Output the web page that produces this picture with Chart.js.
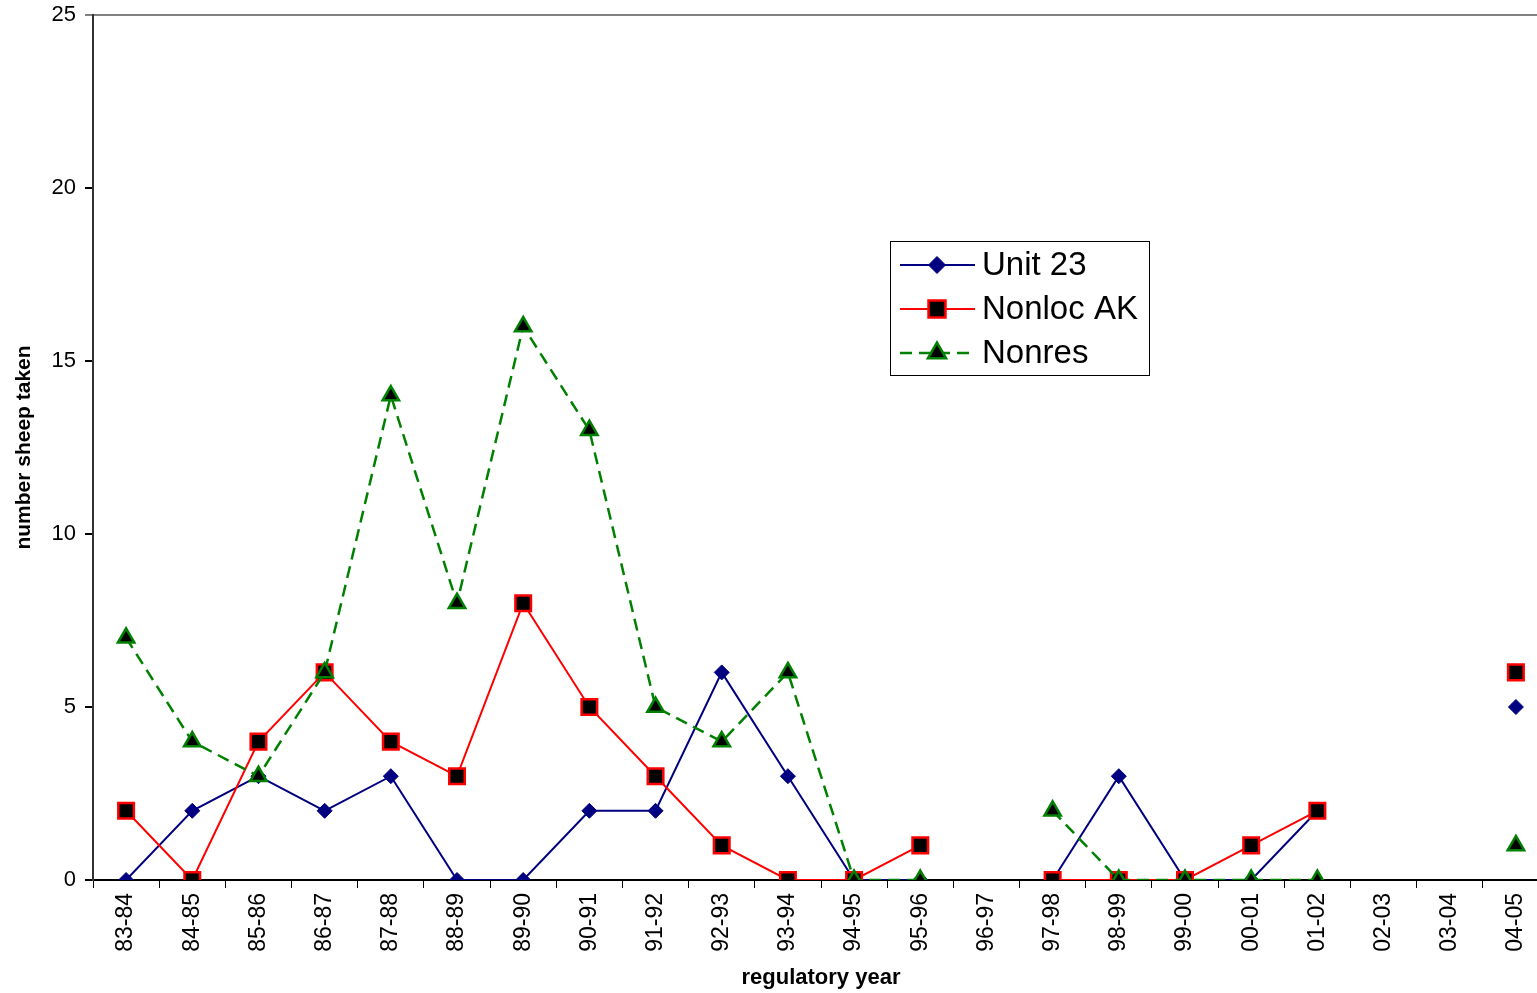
<!DOCTYPE html>
<html>
<head>
<meta charset="utf-8">
<script src="https://cdn.jsdelivr.net/npm/chart.js@4"></script>
<style>
  html, body { margin: 0; padding: 0; background: #fff; overflow: hidden; }
  #wrap { width: 1549px; height: 993px; }
</style>
</head>
<body>
<div id="wrap"><canvas id="chart" width="1549" height="993"></canvas></div>
<script>
// categories and series values
const years = ["83-84", "84-85", "85-86", "86-87", "87-88", "88-89", "89-90", "90-91", "91-92", "92-93",
  "93-94", "94-95", "95-96", "96-97", "97-98", "98-99", "99-00", "00-01", "01-02", "02-03", "03-04", "04-05"];
const unit23 = [0, 2, 3, 2, 3, 0, 0, 2, 2, 6, 3, 0, 0, null, 0, 3, 0, 0, 2, null, null, 5];
const nonlocAK = [2, 0, 4, 6, 4, 3, 8, 5, 3, 1, 0, 0, 1, null, 0, 0, 0, 1, 2, null, null, 6];
const nonres = [7, 4, 3, 6, 14, 8, 16, 13, 5, 4, 6, 0, 0, null, 2, 0, 0, 0, 0, null, null, 1];
const yTicks = [0, 5, 10, 15, 20, 25];

const fontFamily = "'Liberation Sans', Arial, sans-serif";

// legend drawn as a box inside the plot, like the original
const boxLegend = {
  id: "boxLegend",
  afterDraw(chart) {
    const ctx = chart.ctx;
    const x0 = 890, y0 = 241, w = 259, h = 134;
    ctx.save();
    ctx.fillStyle = "#fff";
    ctx.fillRect(x0, y0, w, h);
    ctx.strokeStyle = "#000";
    ctx.lineWidth = 1;
    ctx.strokeRect(x0 + 0.5, y0 + 0.5, w, h);
    chart.data.datasets.forEach((ds, i) => {
      const cy = y0 + 24 + i * 44;
      ctx.save();
      ctx.beginPath();
      ctx.strokeStyle = ds.borderColor;
      ctx.lineWidth = ds.borderWidth;
      ctx.setLineDash(ds.borderDash || []);
      ctx.moveTo(x0 + 10, cy);
      ctx.lineTo(x0 + 85, cy);
      ctx.stroke();
      ctx.setLineDash([]);
      ctx.fillStyle = ds.pointBackgroundColor;
      ctx.strokeStyle = ds.pointBorderColor;
      ctx.lineWidth = ds.pointBorderWidth;
      Chart.helpers.drawPoint(ctx, {
        pointStyle: ds.pointStyle,
        radius: ds.pointRadius + 1,
        borderWidth: ds.pointBorderWidth
      }, x0 + 47, cy);
      ctx.fillStyle = "#000";
      ctx.font = "33px " + fontFamily;
      ctx.textBaseline = "middle";
      ctx.textAlign = "left";
      ctx.fillText(ds.label, x0 + 92, cy + 1);
      ctx.restore();
    });
    ctx.restore();
  }
};

new Chart(document.getElementById("chart").getContext("2d"), {
  type: "line",
  data: {
    labels: years,
    datasets: [{
      label: "Unit 23",
      data: unit23,
      order: 2,
      borderColor: "#000080",
      borderWidth: 2,
      pointStyle: "rectRot",
      pointRadius: 7.5,
      pointBackgroundColor: "#000080",
      pointBorderColor: "#000080",
      pointBorderWidth: 1,
      tension: 0,
      spanGaps: false
    }, {
      label: "Nonloc AK",
      data: nonlocAK,
      order: 1,
      borderColor: "#ff0000",
      borderWidth: 2,
      pointStyle: "rect",
      pointRadius: 11,
      pointBackgroundColor: "#000",
      pointBorderColor: "#ff0000",
      pointBorderWidth: 2.5,
      tension: 0,
      spanGaps: false
    }, {
      label: "Nonres",
      data: nonres,
      order: 0,
      borderColor: "#008000",
      borderWidth: 2.5,
      borderDash: [12, 7],
      pointStyle: "triangle",
      pointRadius: 9.5,
      pointBackgroundColor: "#000",
      pointBorderColor: "#008000",
      pointBorderWidth: 2.5,
      tension: 0,
      spanGaps: false
    }]
  },
  options: {
    responsive: false,
    animation: false,
    layout: { autoPadding: false, padding: { top: 15, right: 0, left: 0, bottom: 0 } },
    plugins: {
      legend: { display: false },
      tooltip: { enabled: false }
    },
    scales: {
      x: {
        offset: true,
        grid: {
          offset: true,
          drawOnChartArea: false,
          drawTicks: true,
          tickLength: 8,
          tickColor: "#000"
        },
        border: { color: "#000", width: 2 },
        ticks: {
          color: "#000",
          font: { size: 23, family: fontFamily },
          minRotation: 90,
          maxRotation: 90,
          autoSkip: false,
          padding: 5
        },
        title: {
          display: true,
          text: "regulatory year",
          color: "#000",
          font: { size: 22, weight: "bold", family: fontFamily },
          padding: { top: 2, bottom: 2 }
        },
        afterFit(scale) {
          scale.height = 113;
          scale.paddingLeft = 0;
          scale.paddingRight = 0;
        }
      },
      y: {
        min: 0,
        max: 25,
        afterBuildTicks(scale) { scale.ticks = yTicks.map(v => ({ value: v })); },
        grid: {
          drawOnChartArea: true,
          color: ctx => (ctx.tick && ctx.tick.value === 25 ? "#808080" : "rgba(0,0,0,0)"),
          lineWidth: 2,
          tickLength: 8,
          tickColor: ctx => (ctx.tick && ctx.tick.value === 25 ? "#808080" : "#000")
        },
        border: { color: "#333", width: 2 },
        ticks: {
          color: "#000",
          font: { size: 22, family: fontFamily },
          padding: 9
        },
        title: {
          display: true,
          text: "number sheep taken",
          color: "#000",
          font: { size: 21, weight: "bold", family: fontFamily },
          padding: { top: 12, bottom: 4 }
        },
        afterFit(scale) {
          scale.width = 93;
          scale.paddingTop = 15;
          scale.paddingBottom = 0;
        }
      }
    }
  },
  plugins: [boxLegend]
});
</script>
</body>
</html>
